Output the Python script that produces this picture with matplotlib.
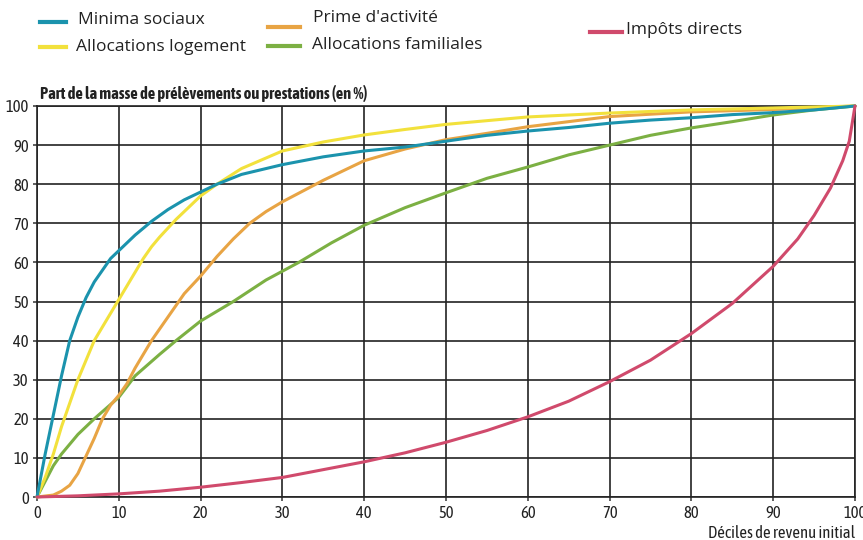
import matplotlib
matplotlib.use("Agg")
import matplotlib.pyplot as plt
from matplotlib.lines import Line2D

# ---- data ----
minima_x = [0, 1, 2, 3, 4, 5, 6, 7, 8, 9, 10, 11, 12, 14, 16, 18, 20, 22, 25, 30, 35, 40, 45, 50, 55, 60, 65, 70, 75, 80, 85, 90, 95, 100]
minima_y = [0, 11, 21, 31, 40, 46, 51, 55, 58, 61, 63, 65, 67, 70.5, 73.5, 76, 78, 80, 82.5, 85, 87, 88.5, 89.5, 91, 92.5, 93.6, 94.5, 95.6, 96.4, 97, 97.8, 98.3, 99, 100]

logement_x = [0, 1, 2, 3, 4, 5, 6, 7, 8, 9, 10, 11, 12, 13, 14, 15, 17, 20, 22, 25, 30, 35, 40, 45, 50, 60, 70, 80, 90, 100]
logement_y = [0, 5, 11, 18, 24, 30, 35, 40, 43.5, 47, 50.5, 54, 57.5, 61, 64, 66.5, 71, 77, 80, 84, 88.5, 90.8, 92.6, 94, 95.3, 97.2, 98.2, 99, 99.5, 100]

prime_x = [0, 2, 3, 4, 5, 6, 7, 8, 9, 10, 11, 12, 14, 16, 18, 20, 22, 24, 26, 28, 30, 35, 40, 45, 50, 55, 60, 65, 70, 80, 90, 100]
prime_y = [0, 0.5, 1.5, 3, 6, 10.5, 15, 20, 23.5, 26, 29, 33, 40, 46, 52, 56.5, 61.5, 66, 70, 73, 75.5, 81, 86, 89, 91.4, 93, 94.7, 96, 97.3, 98.5, 99.1, 100]

familiales_x = [0, 1, 2, 3, 5, 7, 10, 12, 15, 17, 20, 24, 28, 32, 36, 40, 45, 50, 55, 60, 65, 70, 75, 80, 85, 90, 95, 100]
familiales_y = [0, 4, 8, 11, 16, 20, 25.5, 31, 36.5, 40, 45, 50, 55.5, 60, 65, 69.5, 74, 77.8, 81.5, 84.4, 87.5, 90, 92.5, 94.4, 96, 97.7, 99, 100]

impots_x = [0, 5, 10, 15, 20, 25, 30, 35, 40, 45, 50, 55, 60, 65, 70, 75, 80, 85, 90, 93, 95, 97, 98.5, 99.3, 100]
impots_y = [0, 0.3, 0.8, 1.5, 2.5, 3.7, 5, 7, 9, 11.3, 14, 17, 20.5, 24.5, 29.5, 35, 41.8, 49.5, 59, 66, 72, 79, 86, 91, 100]

x_ticks = [0, 10, 20, 30, 40, 50, 60, 70, 80, 90, 100]
y_ticks = [0, 10, 20, 30, 40, 50, 60, 70, 80, 90, 100]

series = [
    ("Minima sociaux", minima_x, minima_y, "#1b93ad"),
    ("Allocations logement", logement_x, logement_y, "#f2e13c"),
    ("Prime d'activité", prime_x, prime_y, "#e8a444"),
    ("Allocations familiales", familiales_x, familiales_y, "#7cb043"),
    ("Impôts directs", impots_x, impots_y, "#d04a6c"),
]

narrow = ["Asap Condensed", "DejaVu Sans"]
legfont = ["Open Sans", "DejaVu Sans"]

W, H = 863, 540
fig = plt.figure(figsize=(W / 100, H / 100), dpi=100)
ax = fig.add_axes([37 / W, 1 - 497 / H, (855 - 37) / W, (497 - 106) / H])

ax.set_xlim(0, 100)
ax.set_ylim(0, 100)
ax.set_xticks(x_ticks)
ax.set_yticks(y_ticks)
ax.set_xticklabels([str(t) for t in x_ticks], family=narrow, fontsize=12, color="#222222")
ax.set_yticklabels([str(t) for t in y_ticks], family=narrow, fontsize=12, color="#222222")
ax.tick_params(axis="both", length=3, width=1.1, color="#333333", pad=3)
ax.grid(True, color="#222222", linewidth=1.2)
ax.set_axisbelow(True)
for s in ax.spines.values():
    s.set_color("#222222")
    s.set_linewidth(1.2)

order = [3, 2, 1, 0, 4]
for i in order:
    name, xs, ys, col = series[i]
    ax.plot(xs, ys, color=col, linewidth=2.2, solid_capstyle="round",
            solid_joinstyle="round", zorder=3, clip_on=False)

fig.text(40 / W, 1 - 93 / H, "Part de la masse de prélèvements ou prestations (en %)",
         family=narrow, fontsize=11.8, fontweight="bold", color="#222222", va="center", ha="left")
fig.text(855 / W, 1 - 533 / H, "Déciles de revenu initial",
         family=narrow, fontsize=12, color="#222222", va="center", ha="right")

# legend drawn manually at the top
leg_items = [
    (0, 40, 66, 22, 78, 20),
    (1, 40, 66, 47, 76, 47),
    (2, 268, 300, 27, 313, 18),
    (3, 268, 300, 46, 312, 45),
    (4, 590, 622, 32, 626, 30),
]
for i, x0, x1, ly, tx, ty in leg_items:
    name, _, _, col = series[i]
    fig.add_artist(Line2D([x0 / W, x1 / W], [1 - ly / H, 1 - ly / H], color=col, linewidth=3,
                          transform=fig.transFigure))
    fig.text(tx / W, 1 - ty / H, name, family=legfont, fontsize=12.5, color="#222222",
             va="center", ha="left")

fig.savefig("out.png", dpi=100)
